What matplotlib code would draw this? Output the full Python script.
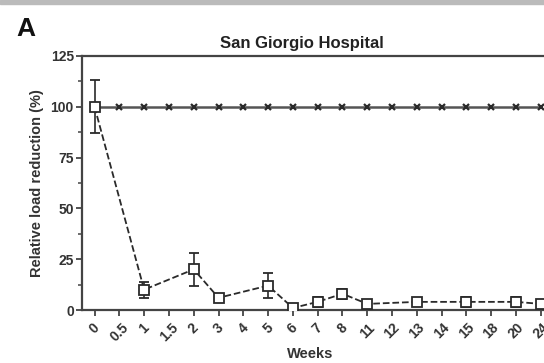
import matplotlib.pyplot as plt
from matplotlib.patches import Rectangle

plt.rcParams['font.family'] = ['Liberation Sans', 'DejaVu Sans']

# Categories (weeks) and series values
weeks = ['0', '0.5', '1', '1.5', '2', '3', '4', '5', '6', '7', '8',
         '11', '12', '13', '14', '15', '18', '20', '24']
control = [100] * len(weeks)

treat_weeks = ['0', '1', '2', '3', '5', '6', '7', '8', '11', '13', '15', '20', '24']
treat_vals = [100, 10, 20, 6, 12, 1, 4, 8, 3, 4, 4, 4, 3]
treat_err = [13, 4, 8, 1.5, 6, 1, 2.5, 2.5, 1, 1, 2.5, 2.5, 1]

xpos = {w: i for i, w in enumerate(weeks)}
tx = [xpos[w] for w in treat_weeks]

fig = plt.figure(figsize=(5.44, 3.63), dpi=100)
ax = fig.add_axes([0.151, 0.146, 0.866, 0.700])

ink = '#2a2a2a'

ax.plot(range(len(weeks)), control, color='#555555', lw=1.8, marker='x',
        markersize=5, mew=1.6, mec=ink, zorder=3)
ax.errorbar(tx, treat_vals, yerr=treat_err, color=ink, ls='--', lw=1.3,
            marker='s', markersize=6.5, mfc='white', mec=ink, mew=1.3,
            capsize=3.5, elinewidth=1.2, capthick=1.2, zorder=4)

ax.set_xlim(-0.5, len(weeks) - 0.5)
ax.set_ylim(0, 125)
ax.set_yticks([0, 25, 50, 75, 100, 125])
ax.set_yticks([12.5, 37.5, 62.5, 87.5, 112.5], minor=True)
ax.set_xticks(range(len(weeks)))
ax.set_xticklabels(weeks, rotation=45, ha='center', va='top')

for s in ['left', 'bottom', 'top']:
    ax.spines[s].set_color('#444444')
    ax.spines[s].set_linewidth(1.6)
ax.spines['right'].set_visible(False)

ax.tick_params(axis='both', colors='#444444', width=1.3, length=4,
               labelcolor='#333333', labelsize=10)
ax.tick_params(axis='y', pad=2)
ax.tick_params(axis='y', which='minor', width=1.1, length=3, colors='#444444')
for lab in ax.get_xticklabels() + ax.get_yticklabels():
    lab.set_fontweight('bold')

ax.set_ylabel('Relative load reduction (%)', fontsize=10.5, fontweight='bold',
              color='#333333', labelpad=5)
ax.set_xlabel('Weeks', fontsize=10.5, fontweight='bold', color='#333333',
              labelpad=2, x=0.485)
ax.set_title('San Giorgio Hospital', fontsize=12, fontweight='bold',
             color='#222222', pad=6, x=0.467)

fig.text(0.03, 0.90, 'A', fontsize=19, fontweight='bold', color='#111111')
fig.patches.append(Rectangle((0, 0.99), 1, 0.01, transform=fig.transFigure,
                             color='#bbbbbb', zorder=0))

fig.savefig('out.png', dpi=100)
